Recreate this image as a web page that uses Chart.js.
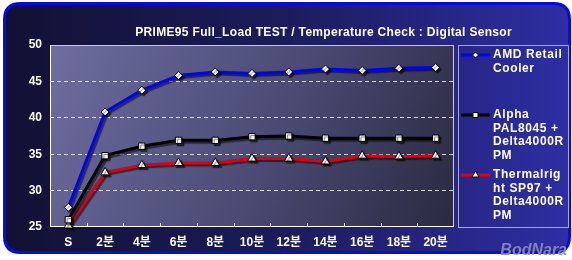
<!DOCTYPE html>
<html>
<head>
<meta charset="utf-8">
<script src="https://cdn.jsdelivr.net/npm/chart.js@4"></script>
<style>
    html, body { margin: 0; padding: 0; background: #fff; }
    #wrap { width: 572px; height: 260px; }
</style>
</head>
<body>
<div id="wrap"><canvas id="chart" width="572" height="260"></canvas></div>
<script>
// Données (°C)
var categories   = ['S', '2분', '4분', '6분', '8분', '10분', '12분', '14분', '16분', '18분', '20분'];
var amdRetail    = [27.7, 40.8, 43.8, 45.8, 46.3, 46.1, 46.3, 46.7, 46.5, 46.8, 46.9];
var alphaPal     = [26.0, 34.8, 36.1, 36.9, 36.9, 37.4, 37.5, 37.2, 37.2, 37.2, 37.2];
var thermalright = [25.2, 32.5, 33.5, 33.8, 33.8, 34.4, 34.4, 34.0, 34.8, 34.7, 34.8];
var yMin = 25, yMax = 50, yStep = 5;

var seriesNames = ['AMD Retail Cooler', 'Alpha PAL8045 + Delta4000RPM', 'Thermalright SP97 + Delta4000RPM'];
var legendLines = [
    ['AMD Retail', 'Cooler'],
    ['Alpha', 'PAL8045 +', 'Delta4000R', 'PM'],
    ['Thermalrig', 'ht SP97 +', 'Delta4000R', 'PM']
];
var titleText = 'PRIME95 Full_Load TEST / Temperature Check : Digital Sensor';

var FONT = "'Liberation Sans', 'Noto Sans CJK KR', sans-serif";

function roundRect(ctx, x, y, w, h, r) {
    ctx.beginPath();
    ctx.moveTo(x + r, y);
    ctx.lineTo(x + w - r, y);
    ctx.quadraticCurveTo(x + w, y, x + w, y + r);
    ctx.lineTo(x + w, y + h - r);
    ctx.quadraticCurveTo(x + w, y + h, x + w - r, y + h);
    ctx.lineTo(x + r, y + h);
    ctx.quadraticCurveTo(x, y + h, x, y + h - r);
    ctx.lineTo(x, y + r);
    ctx.quadraticCurveTo(x, y, x + r, y);
    ctx.closePath();
}

// Fond, cadre, titre et légende dessinés à la main
var framePlugin = {
    id: 'frame',
    beforeDraw: function (chart) {
        var ctx = chart.ctx, a = chart.chartArea;
        ctx.save();
        ctx.fillStyle = '#fff';
        ctx.fillRect(0, 0, chart.width, chart.height);

        // cadre arrondi
        var g = ctx.createLinearGradient(4, 0, 569, 0);
        g.addColorStop(0, '#111134');
        g.addColorStop(0.5, '#1c1c5c');
        g.addColorStop(1, '#2e2ea4');
        roundRect(ctx, 4.5, 3.5, 565, 249, 16);
        ctx.fillStyle = g;
        ctx.fill();
        ctx.lineWidth = 3;
        ctx.strokeStyle = '#0a0ae0';
        ctx.stroke();

        // zone de tracé
        var pg = ctx.createLinearGradient(a.left, a.top, a.right, a.bottom);
        pg.addColorStop(0, '#6e6ea0');
        pg.addColorStop(0.55, '#4a4a74');
        pg.addColorStop(1, '#2a2a40');
        ctx.fillStyle = pg;
        ctx.fillRect(a.left, a.top, a.right - a.left, a.bottom - a.top);

        // titre
        ctx.fillStyle = '#fff';
        ctx.font = 'bold 12px ' + FONT;
        ctx.textAlign = 'right';
        ctx.textBaseline = 'middle';
        ctx.letterSpacing = '0.32px';
        ctx.fillText(titleText, 512, 33);

        // boîte de légende
        ctx.strokeStyle = '#a8a8d8';
        ctx.lineWidth = 1;
        ctx.strokeRect(458.5, 45.5, 110, 182);

        var tops = [55, 115, 175];
        ctx.textAlign = 'left';
        ctx.letterSpacing = '0.6px';
        chart.data.datasets.forEach(function (ds, i) {
            var y = tops[i];
            ctx.strokeStyle = ds.borderColor;
            ctx.lineWidth = 3;
            ctx.beginPath();
            ctx.moveTo(461, y);
            ctx.lineTo(490, y);
            ctx.stroke();
            ctx.fillStyle = ds.pointBackgroundColor;
            ctx.strokeStyle = '#000';
            ctx.lineWidth = 1;
            Chart.helpers.drawPoint(ctx, {
                pointStyle: ds.pointStyle,
                radius: ds.pointRadius - 1,
                borderWidth: 1
            }, 475.5, y);
            ctx.fillStyle = '#fff';
            legendLines[i].forEach(function (line, k) {
                ctx.fillText(line, 493, y + k * 13.4);
            });
        });

        // logo
        ctx.letterSpacing = '0px';
        ctx.font = 'bold italic 16px ' + FONT;
        ctx.fillStyle = 'rgba(140,140,185,0.9)';
        ctx.textAlign = 'right';
        ctx.fillText('BodNara', 567, 251);
        ctx.restore();
    },
    beforeDatasetsDraw: function (chart) {
        var ctx = chart.ctx, a = chart.chartArea, xs = chart.scales.x;
        ctx.save();
        ctx.strokeStyle = '#c8c8e8';
        ctx.lineWidth = 1;
        ctx.strokeRect(a.left + 0.5, a.top + 0.5, a.right - a.left - 1, a.bottom - a.top - 1);
        ctx.strokeStyle = '#fff';
        ctx.beginPath();
        ctx.moveTo(a.left + 0.5, a.top);
        ctx.lineTo(a.left + 0.5, a.bottom - 0.5);
        ctx.lineTo(a.right, a.bottom - 0.5);
        // petites graduations entre les catégories
        for (var i = 0; i < categories.length - 1; i++) {
            var x = Math.round((xs.getPixelForTick(i) + xs.getPixelForTick(i + 1)) / 2) + 0.5;
            ctx.moveTo(x, a.bottom);
            ctx.lineTo(x, a.bottom - 4);
        }
        ctx.stroke();
        ctx.restore();
        // ombre portée des courbes
        ctx.save();
        ctx.shadowColor = 'rgba(0,0,0,0.55)';
        ctx.shadowOffsetX = 2;
        ctx.shadowOffsetY = 2;
        ctx.shadowBlur = 1;
    },
    afterDatasetsDraw: function (chart) {
        chart.ctx.restore();
    }
};

function makeSeries(label, data, color, style, radius) {
    return {
        label: label,
        data: data,
        borderColor: color,
        borderWidth: 3,
        tension: 0,
        pointStyle: style,
        pointRadius: radius,
        pointBackgroundColor: '#fff',
        pointBorderColor: '#000',
        pointBorderWidth: 1,
        clip: false
    };
}

new Chart(document.getElementById('chart'), {
    type: 'line',
    data: {
        labels: categories,
        datasets: [
            makeSeries(seriesNames[0], amdRetail, '#0000ff', 'rectRot', 4),
            makeSeries(seriesNames[1], alphaPal, '#000000', 'rect', 4.5),
            makeSeries(seriesNames[2], thermalright, '#e00010', 'triangle', 5)
        ]
    },
    options: {
        responsive: false,
        devicePixelRatio: 1,
        animation: false,
        layout: { padding: { left: 0, top: 45, right: 118, bottom: 0 } },
        plugins: {
            legend: { display: false },
            title: { display: false },
            tooltip: { enabled: false }
        },
        scales: {
            x: {
                offset: true,
                afterFit: function (s) { s.height = 33; },
                grid: { display: false, drawTicks: false },
                border: { display: false },
                ticks: {
                    color: '#fff',
                    padding: 8,
                    font: { family: FONT, size: 12, weight: 'bold' }
                }
            },
            y: {
                min: yMin,
                max: yMax,
                afterFit: function (s) { s.width = 50; },
                grid: {
                    drawTicks: false,
                    lineWidth: 1,
                    color: function (c) {
                        var v = c.tick && c.tick.value;
                        return (v === yMin || v === yMax) ? 'rgba(0,0,0,0)' : 'rgba(255,255,255,0.8)';
                    }
                },
                border: { display: false, dash: [4, 3] },
                ticks: {
                    stepSize: yStep,
                    color: '#fff',
                    padding: 8,
                    font: { family: FONT, size: 12, weight: 'bold' }
                }
            }
        }
    },
    plugins: [framePlugin]
});
</script>
</body>
</html>
